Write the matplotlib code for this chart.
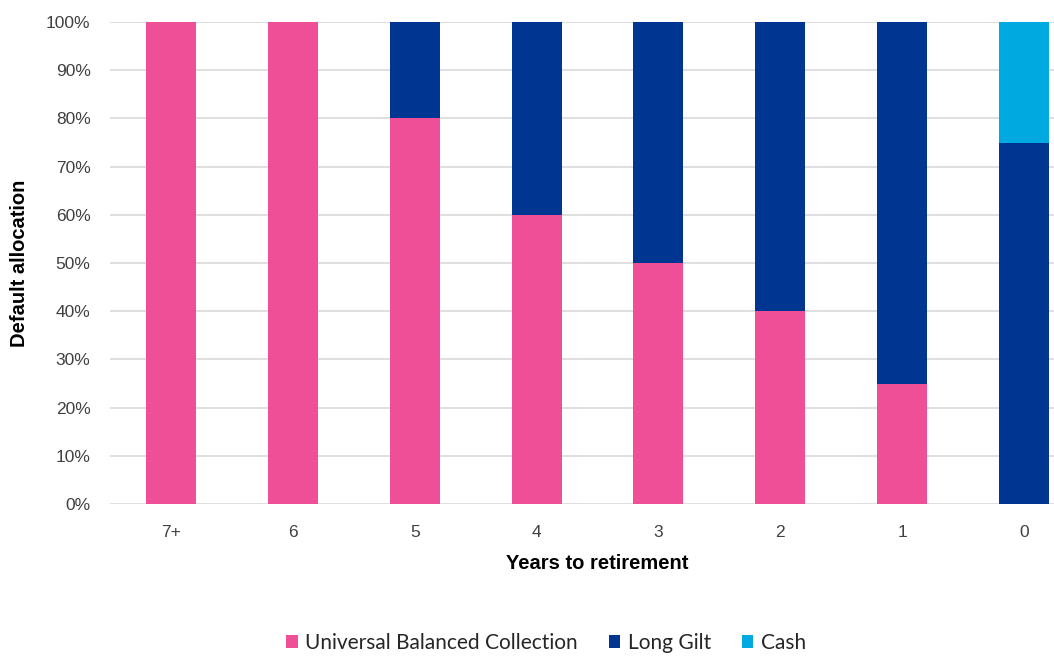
import matplotlib.pyplot as plt
import numpy as np
from matplotlib.ticker import PercentFormatter

plt.rcParams["font.family"] = ["Liberation Sans", "DejaVu Sans"]

years = ["7+", "6", "5", "4", "3", "2", "1", "0"]
balanced = [100, 100, 80, 60, 50, 40, 25, 0]
long_gilt = [0, 0, 20, 40, 50, 60, 75, 75]
cash = [0, 0, 0, 0, 0, 0, 0, 25]

colors = {"balanced": "#EF4F96", "gilt": "#003591", "cash": "#00A9DF"}

fig = plt.figure(figsize=(10.54, 6.57), dpi=100)
# the source chart is cropped on the right, so the axes run past the figure edge
ax = fig.add_axes([110 / 1054, 153 / 657, 975 / 1054, 482 / 657])

x = np.arange(len(years))
w = 0.41
b = np.array(balanced)
g = np.array(long_gilt)
ax.bar(x, balanced, w, color=colors["balanced"], label="Universal Balanced Collection", zorder=3)
ax.bar(x, long_gilt, w, bottom=b, color=colors["gilt"], label="Long Gilt", zorder=3)
ax.bar(x, cash, w, bottom=b + g, color=colors["cash"], label="Cash", zorder=3)

ax.set_xlim(-0.5, len(years) - 0.5)
ax.set_ylim(0, 100)
ax.set_yticks(range(0, 101, 10))
ax.yaxis.set_major_formatter(PercentFormatter(decimals=0))
ax.set_xticks(x, years)
ax.grid(axis="y", color="#D9D9D9", linewidth=1.2, zorder=0)
for s in ax.spines.values():
    s.set_visible(False)
ax.tick_params(length=0, labelsize=12.5, colors="#404040", pad=14)
ax.tick_params(axis="x", pad=15)

ax.set_ylabel("Default allocation", fontsize=14.5, fontweight="bold", labelpad=12)
ax.set_xlabel("Years to retirement", fontsize=14.5, fontweight="bold", labelpad=10)

fig.legend(loc="lower center", bbox_to_anchor=(546 / 1054, -0.022), ncol=3, frameon=False,
           handlelength=0.55, handleheight=0.55, handletextpad=0.35,
           columnspacing=1.5, labelcolor="#262626", prop={"family": ["Lato", "DejaVu Sans"], "size": 15})

fig.savefig("out.png", dpi=100)
